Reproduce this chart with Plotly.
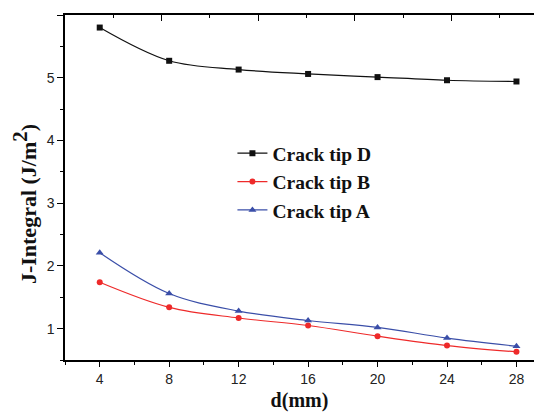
import plotly.graph_objects as go

# data
d_mm = [4, 8, 12, 16, 20, 24, 28]
tip_d = [5.80, 5.27, 5.13, 5.06, 5.01, 4.96, 4.94]
tip_b = [1.74, 1.34, 1.17, 1.05, 0.88, 0.73, 0.63]
tip_a = [2.21, 1.56, 1.28, 1.13, 1.02, 0.85, 0.72]

series = [
    ("Crack tip D", tip_d, "#111111", "square", 6),
    ("Crack tip B", tip_b, "#ee2a2a", "circle", 6),
    ("Crack tip A", tip_a, "#3a4ea8", "triangle-up", 7),
]

fig = go.Figure()
for name, vals, col, sym, size in series:
    fig.add_trace(go.Scatter(x=d_mm, y=vals, name="<b>" + name + "</b>", mode="lines+markers",
                             line=dict(color=col, width=1.2, shape="spline", smoothing=1.0),
                             marker=dict(symbol=sym, size=size, color=col)))

# empty trace so the top axis gets drawn
fig.add_trace(go.Scatter(x=[], y=[], xaxis="x2", showlegend=False))

tick_font = dict(family="Liberation Sans, Arial", size=14, color="#222222")
title_font = dict(family="Liberation Serif, Times New Roman", size=20, color="#111111")

# page has an 8px body margin, so the figure is kept a bit smaller
fig.update_layout(
    width=526, height=404,
    margin=dict(l=57, r=0, t=7, b=50),
    paper_bgcolor="white", plot_bgcolor="white",
    showlegend=True,
    legend=dict(x=0.357, y=0.655, xanchor="left", yanchor="top",
                bgcolor="rgba(0,0,0,0)", tracegroupgap=0,
                font=dict(family="Liberation Serif, Times New Roman", size=19.5, color="#111111")),
    xaxis=dict(range=[2, 29.01], tickmode="array", tickvals=d_mm,
               ticks="outside", ticklen=5, tickwidth=1, tickcolor="black",
               minor=dict(dtick=4, tick0=2, ticks="outside", ticklen=3, tickcolor="black"),
               showline=True, linecolor="black", linewidth=1.5, mirror=False,
               showgrid=False, zeroline=False, tickfont=tick_font,
               title=dict(text="<b>d(mm)</b>", font=title_font, standoff=11)),
    xaxis2=dict(overlaying="x", side="top", anchor="y", range=[0, 9.71],
                tick0=0, dtick=2, ticks="inside", ticklen=6, tickcolor="black",
                minor=dict(dtick=1, ticks="inside", ticklen=3, tickcolor="black"),
                showticklabels=False, showline=True, linecolor="black", linewidth=1.5,
                showgrid=False, zeroline=False),
    yaxis=dict(range=[0.5, 6], tick0=0, dtick=1,
               ticks="outside", ticklen=6, tickwidth=1, tickcolor="black",
               minor=dict(dtick=0.5, ticks="outside", ticklen=3, tickcolor="black"),
               showline=True, linecolor="black", linewidth=1.5,
               showgrid=False, zeroline=False, tickfont=tick_font,
               title=dict(text="<b>J-Integral (J/m<sup><span style='font-size:21px'>2</span></sup>)"
                               "&nbsp;&nbsp;&nbsp;&nbsp;&nbsp;&nbsp;</b>",
                          font=dict(family="Liberation Serif, Times New Roman", size=22, color="#111111"),
                          standoff=9)),
)

fig.write_html("out.html")
